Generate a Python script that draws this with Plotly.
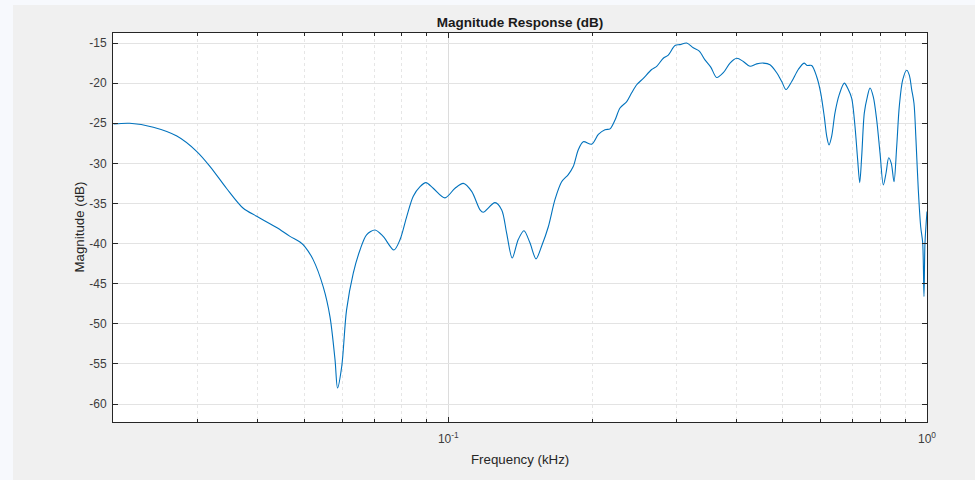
import plotly.graph_objects as go

# Magnitude response samples (frequency in kHz, magnitude in dB)
freq_khz = [
    0.0200, 0.0216, 0.0242, 0.0271, 0.0298, 0.0318, 0.0344, 0.0373, 0.0398, 0.0438,
    0.0467, 0.0490, 0.0502, 0.0522, 0.0548, 0.0566, 0.0580, 0.0587, 0.0599, 0.0613,
    0.0633, 0.0654, 0.0675, 0.0703, 0.0731, 0.0770, 0.0793, 0.0819, 0.0845, 0.0873,
    0.0898, 0.0930, 0.0984, 0.1033, 0.1075, 0.1119, 0.1165, 0.1183, 0.1252, 0.1293,
    0.1324, 0.1360, 0.1400, 0.1439, 0.1481, 0.1525, 0.1567, 0.1618, 0.1671, 0.1725,
    0.1781, 0.1824, 0.1869, 0.1914, 0.1994, 0.2058, 0.2125, 0.2177, 0.2230, 0.2284,
    0.2359, 0.2416, 0.2475, 0.2555, 0.2660, 0.2725, 0.2813, 0.2881, 0.2976, 0.3048,
    0.3148, 0.3249, 0.3344, 0.3437, 0.3534, 0.3637, 0.3754, 0.3877, 0.4004, 0.4133,
    0.4268, 0.4408, 0.4550, 0.4699, 0.4853, 0.4972, 0.5076, 0.5217, 0.5384, 0.5535,
    0.5623, 0.5743, 0.5883, 0.5997, 0.6102, 0.6173, 0.6242, 0.6323, 0.6424, 0.6559,
    0.6718, 0.6849, 0.6962, 0.7073, 0.7165, 0.7235, 0.7305, 0.7397, 0.7505, 0.7602,
    0.7724, 0.7851, 0.7977, 0.8105, 0.8212, 0.8318, 0.8422, 0.8533, 0.8644, 0.8752,
    0.8897, 0.9070, 0.9184, 0.9290, 0.9393, 0.9484, 0.9590, 0.9701, 0.9795, 0.9856,
    0.9904, 1.0000,
]
magnitude_db = [
    -25.1, -25.0, -25.5, -26.6, -28.5, -30.4, -33.1, -35.6, -36.6, -38.0,
    -39.1, -39.8, -40.4, -42.0, -45.4, -49.1, -54.5, -58.0, -55.3, -48.3,
    -43.7, -40.8, -38.9, -38.3, -39.1, -40.8, -39.5, -36.6, -34.1, -32.9,
    -32.4, -33.1, -34.3, -33.1, -32.5, -33.5, -35.8, -36.1, -34.9, -35.8,
    -38.7, -41.8, -39.5, -38.4, -39.9, -41.9, -40.3, -37.9, -34.5, -32.3,
    -31.4, -30.4, -28.3, -27.3, -27.6, -26.4, -25.8, -25.7, -24.6, -23.1,
    -22.3, -21.2, -20.2, -19.4, -18.3, -17.9, -16.9, -16.5, -15.3, -15.2,
    -15.0, -15.6, -16.0, -17.1, -18.0, -19.3, -18.7, -17.5, -16.9, -17.3,
    -17.9, -17.6, -17.5, -17.7, -18.7, -19.8, -20.8, -19.8, -18.3, -17.5,
    -17.8, -17.8, -19.2, -21.2, -24.2, -26.6, -27.7, -26.6, -23.7, -21.4,
    -20.0, -20.8, -21.9, -25.4, -29.6, -32.4, -29.1, -23.7, -21.7, -20.6,
    -21.7, -24.6, -28.7, -32.7, -31.2, -29.3, -30.0, -32.3, -27.9, -22.9,
    -19.6, -18.4, -19.0, -20.8, -22.5, -27.1, -33.3, -37.9, -39.9, -46.6,
    -39.9, -36.0,
]

# Axis ticks
x_major_vals = [0.1, 1.0]
x_major_text = ["10<sup>-1</sup>", "10<sup>0</sup>"]
x_minor_vals = [0.02, 0.03, 0.04, 0.05, 0.06, 0.07, 0.08, 0.09,
                0.2, 0.3, 0.4, 0.5, 0.6, 0.7, 0.8, 0.9]
y_tick_vals = [-60, -55, -50, -45, -40, -35, -30, -25, -20, -15]

FONT_FAMILY = "Liberation Sans, Arial, sans-serif"
AXIS_COLOR = "#262626"
TICK_FONT = dict(family=FONT_FAMILY, size=12, color="#3c3c3c")

fig = go.Figure(
    go.Scatter(
        x=freq_khz,
        y=magnitude_db,
        mode="lines",
        line=dict(color="#0072BD", width=1.1, shape="spline", smoothing=0.85),
        hoverinfo="x+y",
    )
)

fig.update_layout(
    width=975,
    height=480,
    margin=dict(l=113, r=48, t=33, b=58, pad=0),
    paper_bgcolor="#f0f0f0",
    plot_bgcolor="#ffffff",
    showlegend=False,
    title=dict(
        text="<b>Magnitude Response (dB)</b>",
        x=0.5, xref="paper", xanchor="center",
        y=1 - 22.5 / 480, yref="container", yanchor="middle",
        font=dict(family=FONT_FAMILY, size=13.5, color="#1a1a1a"),
    ),
    shapes=[
        # pale window strips around the figure panel
        dict(type="rect", xref="paper", yref="paper", x0=-0.14, x1=-0.1229,
             y0=-0.16, y1=1.09, fillcolor="#f7f9fd", line_width=0, layer="below"),
        dict(type="rect", xref="paper", yref="paper", x0=-0.14, x1=1.07,
             y0=1.072, y1=1.09, fillcolor="#f7f9fd", line_width=0, layer="below"),
    ],
    annotations=[
        dict(text="Frequency (kHz)", xref="paper", yref="paper", x=0.5, y=0,
             yshift=-37, xanchor="center", yanchor="middle", showarrow=False,
             font=dict(family=FONT_FAMILY, size=13.3, color="#262626")),
        dict(text="Magnitude (dB)", xref="paper", yref="paper", x=0, y=0.5,
             xshift=-34, xanchor="center", yanchor="middle", textangle=-90, showarrow=False,
             font=dict(family=FONT_FAMILY, size=13.3, color="#262626")),
    ],
)

fig.update_xaxes(
    type="log",
    range=[-1.7004, 0.0],
    tickmode="array",
    tickvals=x_major_vals,
    ticktext=x_major_text,
    tickfont=TICK_FONT,
    ticks="inside",
    ticklen=5,
    tickcolor=AXIS_COLOR,
    ticklabelstandoff=6,
    showgrid=True,
    gridcolor="#dcdcdc",
    gridwidth=1,
    zeroline=False,
    showline=True,
    linecolor=AXIS_COLOR,
    linewidth=1,
    mirror="allticks",
    minor=dict(
        tickmode="array",
        tickvals=x_minor_vals,
        ticks="inside",
        ticklen=3,
        tickcolor=AXIS_COLOR,
        showgrid=True,
        gridcolor="#e6e6e6",
        griddash="dot",
        gridwidth=1,
    ),
)

fig.update_yaxes(
    range=[-62.24, -13.75],
    tickmode="array",
    tickvals=y_tick_vals,
    ticktext=[str(v) for v in y_tick_vals],
    tickfont=TICK_FONT,
    ticks="inside",
    ticklen=5,
    tickcolor=AXIS_COLOR,
    showgrid=True,
    gridcolor="#e3e3e3",
    gridwidth=1,
    zeroline=False,
    showline=True,
    linecolor=AXIS_COLOR,
    linewidth=1,
    mirror="allticks",
    ticklabelstandoff=3,
)

fig.write_html("out.html")
